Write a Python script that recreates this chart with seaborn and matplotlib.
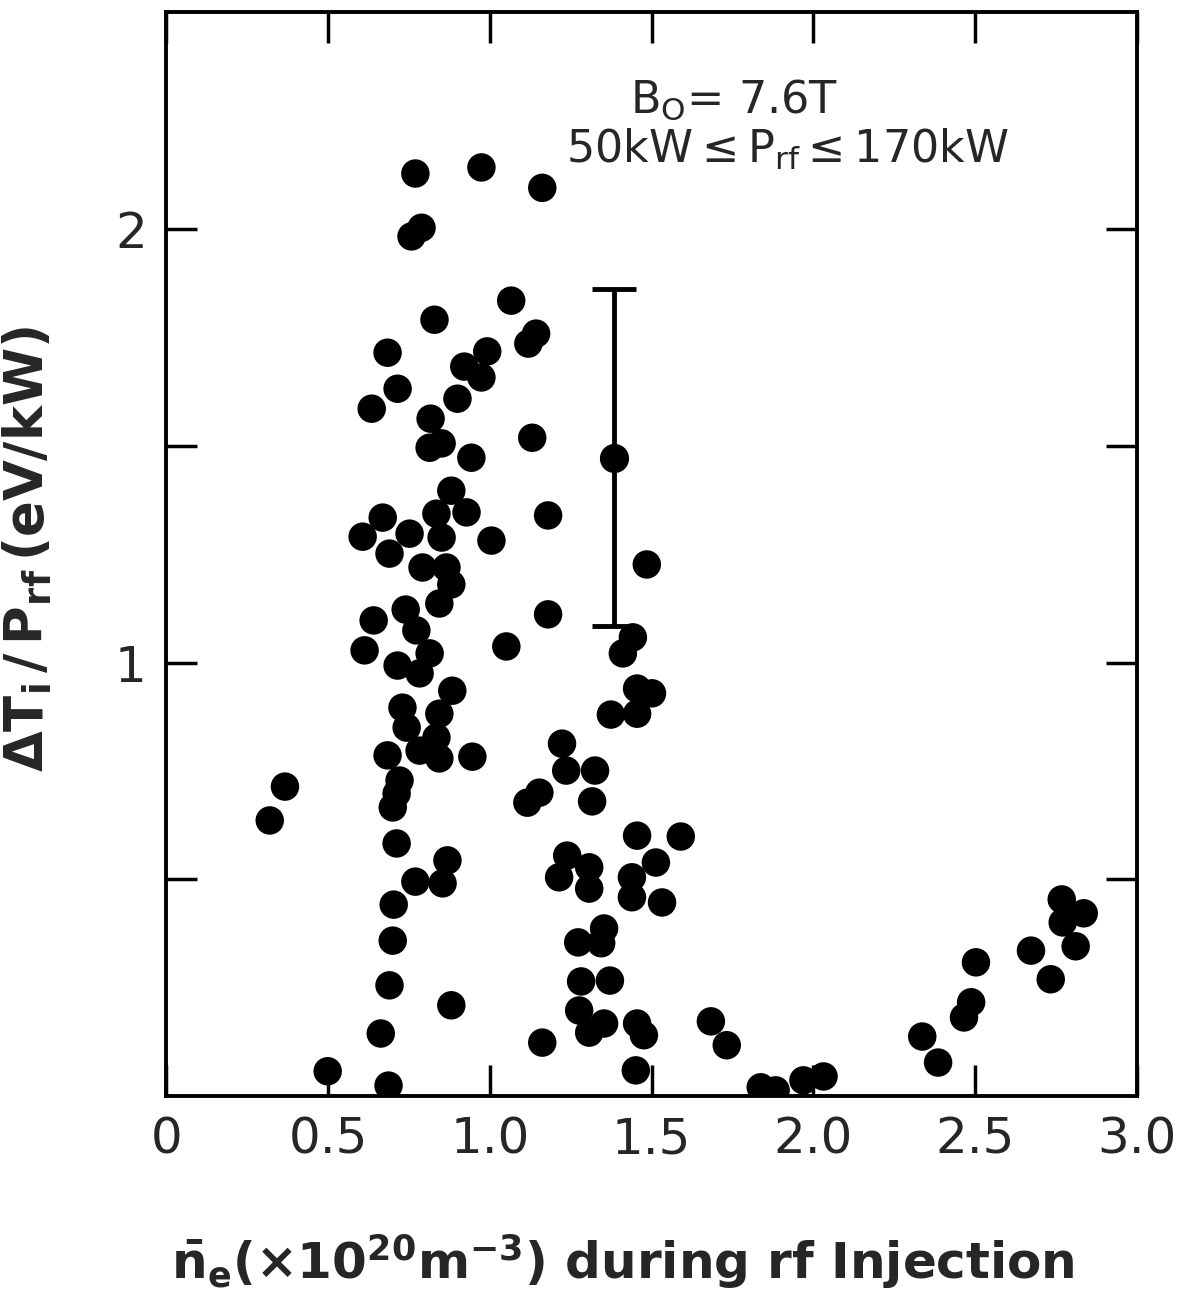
import numpy as np
import matplotlib
matplotlib.use('Agg')
import matplotlib.pyplot as plt
import seaborn as sns

# Data: line-averaged density vs ion heating per kW
density = [0.770, 0.974, 1.162, 0.789, 0.758, 1.066, 0.829, 1.143, 1.119, 0.684,
           0.992, 0.921, 0.974, 0.715, 0.900, 0.635, 0.817, 1.131, 0.814, 0.851,
           0.943, 0.881, 0.928, 0.835, 0.669, 1.180, 0.607, 0.752, 0.690, 0.851,
           1.005, 0.792, 0.866, 0.881, 1.485, 0.844, 0.740, 0.641, 1.180, 0.773,
           0.613, 0.814, 1.051, 1.442, 1.411, 0.715, 0.783, 0.884, 1.455, 1.501,
           0.730, 0.844, 1.374, 1.455, 0.743, 0.835, 0.783, 0.684, 0.844, 0.946,
           1.223, 1.236, 1.325, 0.367, 0.320, 0.721, 0.712, 0.700, 1.153, 1.116,
           1.316, 0.712, 1.455, 1.590, 0.869, 0.770, 0.854, 1.239, 1.513, 1.307,
           1.214, 1.439, 1.307, 1.439, 1.532, 0.703, 1.353, 1.273, 1.344, 0.700,
           1.282, 1.371, 0.690, 0.881, 1.276, 1.353, 1.307, 1.162, 1.455, 1.476,
           0.663, 1.451, 0.499, 0.687, 1.683, 1.732, 1.837, 1.883, 1.969, 2.031,
           2.336, 2.385, 2.502, 2.487, 2.465, 2.672, 2.733, 2.767, 2.835, 2.770,
           2.810]
heating = [2.127, 2.141, 2.094, 2.002, 1.982, 1.834, 1.790, 1.758, 1.735, 1.714,
           1.717, 1.682, 1.657, 1.631, 1.608, 1.585, 1.562, 1.518, 1.495, 1.505,
           1.472, 1.396, 1.346, 1.343, 1.334, 1.339, 1.290, 1.297, 1.251, 1.288,
           1.281, 1.219, 1.219, 1.180, 1.226, 1.136, 1.122, 1.097, 1.111, 1.074,
           1.028, 1.021, 1.037, 1.058, 1.021, 0.993, 0.975, 0.935, 0.940, 0.929,
           0.896, 0.882, 0.880, 0.882, 0.850, 0.827, 0.797, 0.786, 0.779, 0.783,
           0.813, 0.751, 0.751, 0.714, 0.636, 0.728, 0.698, 0.666, 0.700, 0.677,
           0.680, 0.583, 0.601, 0.599, 0.544, 0.495, 0.491, 0.555, 0.539, 0.528,
           0.505, 0.505, 0.479, 0.459, 0.447, 0.442, 0.387, 0.355, 0.353, 0.359,
           0.265, 0.267, 0.256, 0.210, 0.198, 0.168, 0.147, 0.124, 0.168, 0.141,
           0.145, 0.060, 0.058, 0.025, 0.173, 0.118, 0.021, 0.014, 0.037, 0.046,
           0.138, 0.078, 0.309, 0.217, 0.182, 0.336, 0.270, 0.454, 0.422, 0.401,
           0.346]

# Representative point with error bar
err_x = [1.384]
err_y = [1.472]
err_size = [0.388]

x_ticks = [0, 0.5, 1.0, 1.5, 2.0, 2.5, 3.0]
x_tick_labels = ['0', '0.5', '1.0', '1.5', '2.0', '2.5', '3.0']
y_ticks = [0.5, 1.0, 1.5, 2.0]
y_tick_labels = ['', '1', '', '2']

sns.set_style('ticks')
plt.rcParams['font.family'] = ['DejaVu Sans']
plt.rcParams['mathtext.fontset'] = 'dejavusans'
plt.rcParams['mathtext.default'] = 'regular'

fig = plt.figure(figsize=(11.87, 12.96), dpi=100)
ax = fig.add_axes([0.140, 0.154, 0.818, 0.837])

sns.scatterplot(x=density, y=heating, color='black', s=420, edgecolor='none',
                linewidth=0, ax=ax, zorder=3)
ax.errorbar(err_x, err_y, yerr=err_size, fmt='o', color='black', ms=20,
            elinewidth=3.5, capsize=16, capthick=3.5, zorder=4)

ax.set_xlim(0, 3.0)
ax.set_ylim(0, 2.5)
ax.set_xticks(x_ticks)
ax.set_xticklabels(x_tick_labels)
ax.set_yticks(y_ticks)
ax.set_yticklabels(y_tick_labels)

ax.tick_params(direction='in', length=22, width=2.5, labelsize=36, pad=14,
               top=True, right=True, color='black')
for sp in ax.spines.values():
    sp.set_visible(True)
    sp.set_linewidth(2.8)
    sp.set_color('black')

# Axis labels
ax.set_ylabel(r'$\Delta T_i\,/\,P_{rf}\,(eV/kW)$', fontsize=38, fontweight='bold')
ax.yaxis.set_label_coords(-0.115, 0.505)
ax.set_xlabel(r'$\bar{n}_e(\times10^{20}m^{-3})$ during rf Injection', fontsize=36,
              fontweight='bold')
ax.xaxis.set_label_coords(0.47, -0.125)

# Annotation
ax.text(0.585, 0.919, r'$B_O$= 7.6T', transform=ax.transAxes, fontsize=32,
        ha='center', va='center')
ax.text(0.640, 0.873, r'50kW$\leq P_{rf}\leq$170kW', transform=ax.transAxes,
        fontsize=32, ha='center', va='center')

plt.savefig('out.png', dpi=100)
